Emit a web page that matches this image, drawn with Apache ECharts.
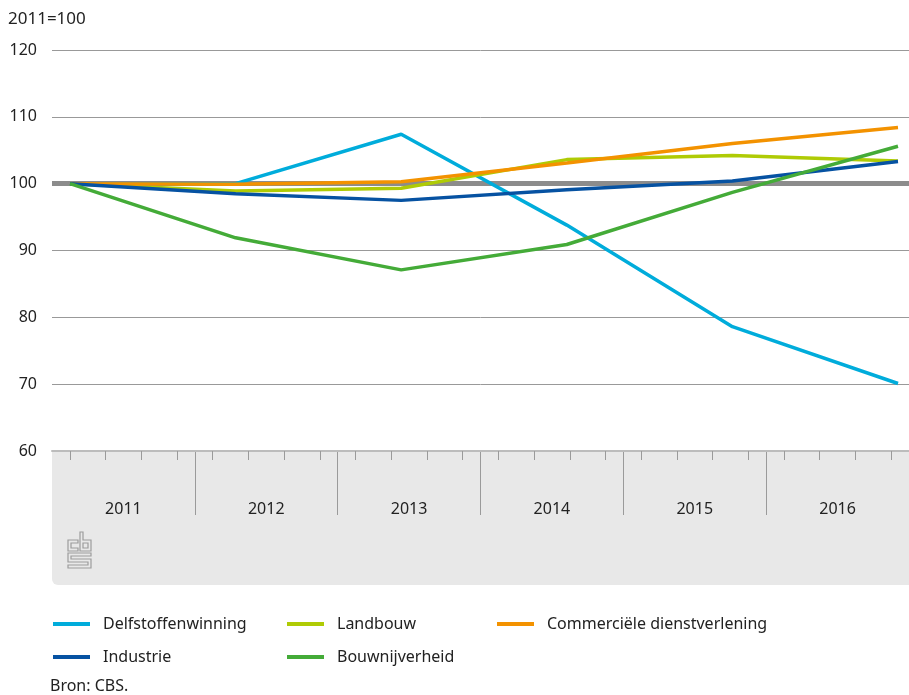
<!DOCTYPE html>
<html>
<head>
<meta charset="utf-8">
<script src="https://cdn.jsdelivr.net/npm/echarts@6/dist/echarts.min.js"></script>
<style>
  html, body { margin: 0; padding: 0; background: #fff; }
  #chart { width: 909px; height: 695px; }
</style>
</head>
<body>
<div id="chart"></div>
<script>
// data
const years = ['2011', '2012', '2013', '2014', '2015', '2016'];
const quarters = ['I', 'II', 'III', 'IV'];
const yMin = 60, yMax = 120, yStep = 10;

const delfstoffenwinning = [100, 100.0, 107.4, 93.8, 78.6, 70.1];
const landbouw = [100, 98.9, 99.3, 103.6, 104.2, 103.4];
const commercieel = [100, 99.9, 100.3, 103.1, 106.0, 108.4];
const industrie = [100, 98.5, 97.5, 99.1, 100.4, 103.3];
const bouwnijverheid = [100, 91.9, 87.1, 90.9, 98.7, 105.6];

const seriesList = [
  { name: 'Delfstoffenwinning', data: delfstoffenwinning, color: '#00acdb' },
  { name: 'Landbouw', data: landbouw, color: '#afcb05' },
  { name: 'Commerciële dienstverlening', data: commercieel, color: '#f39200' },
  { name: 'Industrie', data: industrie, color: '#0652a2' },
  { name: 'Bouwnijverheid', data: bouwnijverheid, color: '#44ab38' },
];

// legend slots (3 columns, row-major)
const legendSlots = [[53, 614], [287, 614], [497, 614], [53, 647], [287, 647]];

const quarterCats = years.flatMap(y => quarters.map(q => y + ' ' + q));

let mycharts = echarts.init(document.getElementById('chart'));

const logoStyle = { fill: 'none', stroke: '#9c9c9c', lineWidth: 1.2 };

mycharts.setOption({
  animation: false,
  textStyle: { fontFamily: 'Noto Sans' },
  grid: [
    // axes / gridlines
    { left: 52, top: 50, width: 859, height: 401 },
    // data lines
    { left: 70, right: 11, top: 50, height: 401 },
    // year band below the axis
    { left: 52, top: 451, width: 859, height: 64 },
  ],
  xAxis: [
    {
      gridIndex: 0,
      type: 'category',
      data: quarterCats,
      axisLine: { show: true, lineStyle: { color: '#bcbcbc', width: 2 } },
      axisTick: { show: true, alignWithLabel: true, interval: 0, length: 9, lineStyle: { color: '#9a9a9a' } },
      axisLabel: { show: false },
    },
    {
      gridIndex: 2,
      type: 'category',
      data: years,
      position: 'top',
      axisLine: { show: false },
      axisTick: { show: false },
      splitLine: {
        show: true, interval: 0, showMinLine: false, showMaxLine: false,
        lineStyle: { color: '#9a9a9a', width: 1 },
      },
      axisLabel: {
        inside: true, margin: 58, verticalAlign: 'middle', interval: 0,
        fontSize: 16, color: '#222',
      },
    },
    {
      gridIndex: 1,
      type: 'category',
      data: years,
      boundaryGap: false,
      show: false,
    },
  ],
  yAxis: [
    {
      gridIndex: 0,
      type: 'value',
      min: yMin, max: yMax, interval: yStep,
      axisLine: { show: false },
      axisTick: { show: false },
      axisLabel: { fontSize: 16, color: '#222', margin: 15 },
      splitLine: { show: true, showMinLine: false, lineStyle: { color: '#999', width: 1 } },
    },
    {
      // thick base line at 100
      gridIndex: 0,
      type: 'value',
      min: yMin, max: yMax, interval: 40,
      axisLine: { show: false },
      axisTick: { show: false },
      axisLabel: { show: false },
      splitLine: {
        show: true, showMinLine: false, showMaxLine: false,
        lineStyle: { color: '#8c8c8c', width: 5 },
      },
    },
    { gridIndex: 2, type: 'value', show: false },
    { gridIndex: 1, type: 'value', min: yMin, max: yMax, show: false },
  ],
  legend: seriesList.map((s, i) => ({
    data: [s.name],
    left: legendSlots[i][0],
    top: legendSlots[i][1],
    padding: 0,
    icon: 'rect',
    itemWidth: 37,
    itemHeight: 4,
    selectedMode: false,
    textStyle: { fontSize: 16, color: '#222', padding: [0, 0, 0, 8], lineHeight: 20 },
  })),
  graphic: [
    {
      type: 'rect', z: -1,
      shape: { x: 52, y: 451, width: 857, height: 134, r: [0, 0, 0, 6] },
      style: { fill: '#e8e8e8' },
    },
    {
      type: 'text', left: 8, top: 11,
      style: { text: '2011=100', fontSize: 17, fill: '#222', fontFamily: 'Noto Sans' },
    },
    {
      type: 'text', left: 50, top: 678,
      style: { text: 'Bron: CBS.', fontSize: 16, fill: '#222', fontFamily: 'Noto Sans' },
    },
    {
      // cbs logo
      type: 'group', x: 68, y: 532,
      children: [
        { type: 'polygon', shape: { points: [[10, 8], [0, 8], [0, 19], [10, 19], [10, 16], [3, 16], [3, 11], [10, 11]] }, style: logoStyle },
        { type: 'polygon', shape: { points: [[12, 0], [15, 0], [15, 8], [23, 8], [23, 19], [12, 19]] }, style: logoStyle },
        { type: 'rect', shape: { x: 15, y: 11, width: 5, height: 5 }, style: logoStyle },
        { type: 'polygon', shape: { points: [[0, 21], [23, 21], [23, 24], [3, 24], [3, 27], [23, 27], [23, 36], [0, 36], [0, 33], [20, 33], [20, 30], [0, 30]] }, style: logoStyle },
      ],
    },
  ],
  series: seriesList.map(s => ({
    name: s.name,
    type: 'line',
    xAxisIndex: 2,
    yAxisIndex: 3,
    data: s.data,
    color: s.color,
    symbol: 'none',
    lineStyle: { width: 3.5, color: s.color },
  })),
});
</script>
</body>
</html>
